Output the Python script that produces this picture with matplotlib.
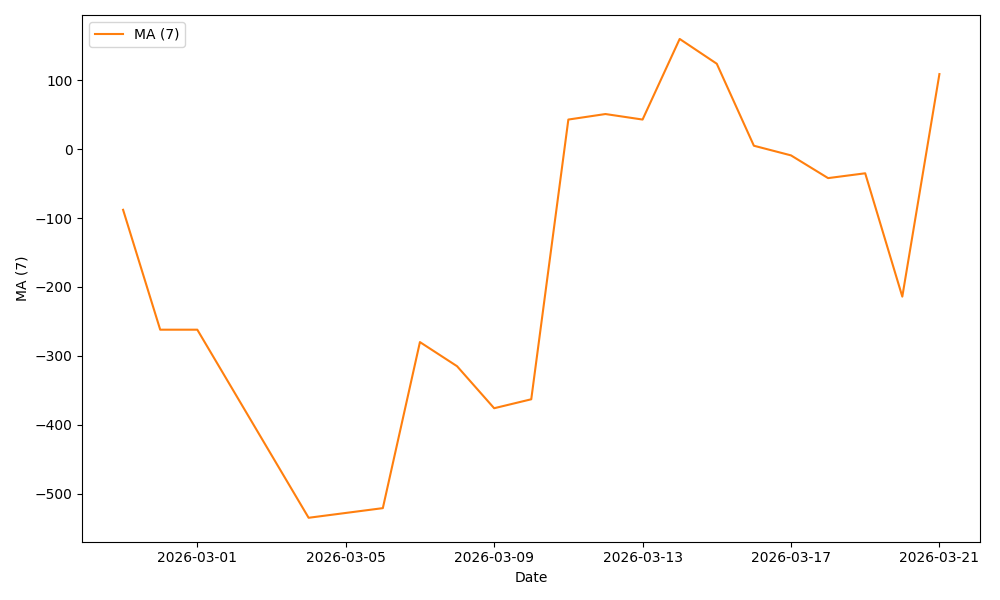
import matplotlib
matplotlib.use("Agg")
import matplotlib.pyplot as plt
import pandas as pd

dates = pd.to_datetime([
    "2026-02-27", "2026-02-28", "2026-03-01", "2026-03-04", "2026-03-06",
    "2026-03-07", "2026-03-08", "2026-03-09", "2026-03-10", "2026-03-11",
    "2026-03-12", "2026-03-13", "2026-03-14", "2026-03-15", "2026-03-16",
    "2026-03-17", "2026-03-18", "2026-03-19", "2026-03-20", "2026-03-21",
])
ma7 = [-88, -262, -262, -535, -521, -280, -315, -376, -363, 43,
       51, 43, 160, 124, 5, -9, -42, -35, -214, 109]


def main():
    fig, ax = plt.subplots(figsize=(10, 6), dpi=100)
    ax.plot(dates, ma7, color="tab:orange", label="MA (7)")
    ax.set_xlabel("Date")
    ax.set_ylabel("MA (7)")
    ax.legend(loc="upper left")
    fig.tight_layout()
    fig.savefig("out.png", dpi=100)


if __name__ == "__main__":
    main()
